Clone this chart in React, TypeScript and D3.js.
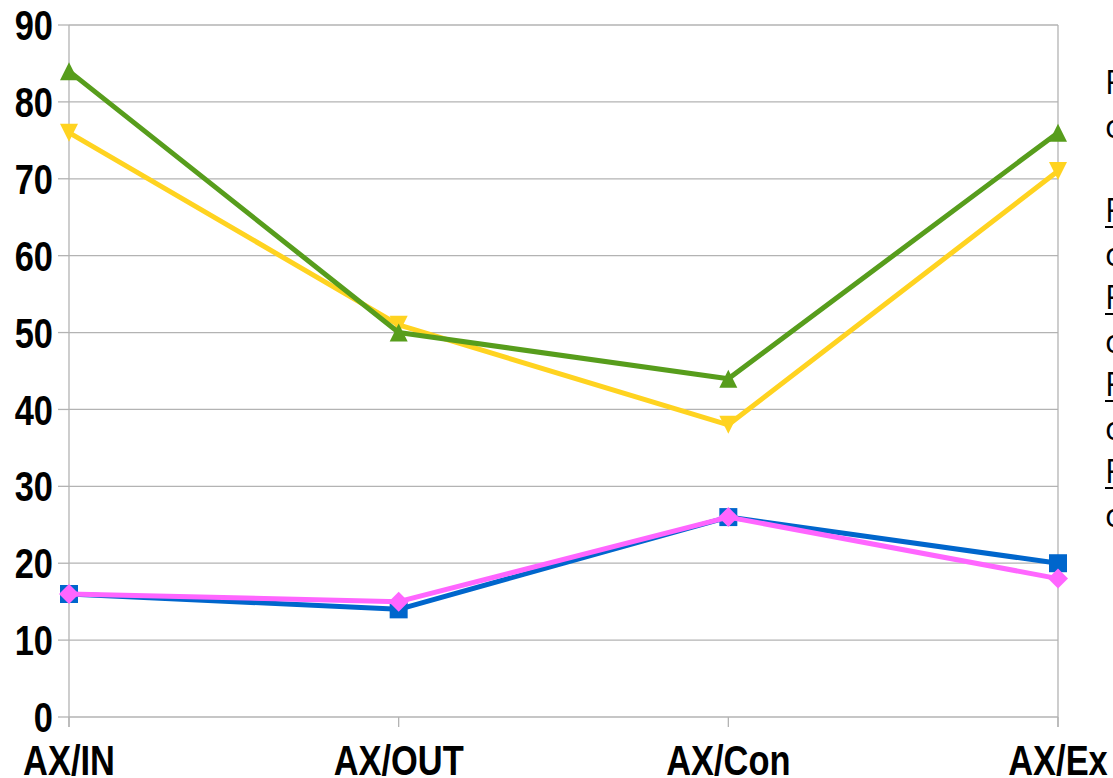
import { useMemo } from 'react';
import * as d3 from 'd3';

const CATEGORIES = ['AX/IN', 'AX/OUT', 'AX/Con', 'AX/Ex'];
const BLUE_VALUES = [16, 14, 26, 20];
const PINK_VALUES = [16, 15, 26, 18];
const YELLOW_VALUES = [76, 51, 38, 71];
const GREEN_VALUES = [84, 50, 44, 76];
const Y_TICKS = [0, 10, 20, 30, 40, 50, 60, 70, 80, 90];
const LEGEND_LINES = [
  { text: 'F', underline: false },
  { text: 'c', underline: false },
  { text: '', underline: false },
  { text: 'F', underline: true },
  { text: 'c', underline: false },
  { text: 'F', underline: true },
  { text: 'c', underline: false },
  { text: 'F', underline: true },
  { text: 'c', underline: false },
  { text: 'F', underline: true },
  { text: 'c', underline: false },
];

const SERIES = [
  { name: 'blue', values: BLUE_VALUES, color: '#0066cc', symbol: 'square' },
  { name: 'pink', values: PINK_VALUES, color: '#ff66ff', symbol: 'diamond' },
  { name: 'yellow', values: YELLOW_VALUES, color: '#ffd320', symbol: 'down' },
  { name: 'green', values: GREEN_VALUES, color: '#579d1c', symbol: 'up' },
];

const WIDTH = 1113;
const HEIGHT = 778;
const LABEL_FONT = '"Liberation Sans", Arial, sans-serif';
const NARROW = 0.82; // squeeze to mimic the narrow bold face

function markerPath(symbol: string, s: number) {
  const h = s / 2;
  switch (symbol) {
    case 'square':
      return `M${-h},${-h}H${h}V${h}H${-h}Z`;
    case 'diamond':
      return `M0,${-h}L${h},0L0,${h}L${-h},0Z`;
    case 'down':
      return `M${-h},${-h}H${h}L0,${h}Z`;
    default:
      return `M0,${-h}L${h},${h}H${-h}Z`;
  }
}

function NarrowText({ x, y, anchor, dy, children }: { x: number; y: number; anchor: string; dy?: string; children: any }) {
  return (
    <g transform={`translate(${x},${y}) scale(${NARROW},1)`}>
      <text
        x={0}
        y={0}
        dy={dy}
        textAnchor={anchor}
        fontFamily={LABEL_FONT}
        fontWeight="bold"
        fontSize={42}
        fill="#000"
      >
        {children}
      </text>
    </g>
  );
}

export default function App() {
  const x = useMemo(
    () => d3.scalePoint<string>().domain(CATEGORIES).range([69, 1058]),
    []
  );
  const y = useMemo(() => d3.scaleLinear().domain([0, 90]).range([717, 25]), []);

  const line = d3
    .line<number>()
    .x((_, i) => x(CATEGORIES[i]) as number)
    .y(d => y(d));

  const [x0, x1] = x.range();

  return (
    <svg
      width={WIDTH}
      height={HEIGHT}
      viewBox={`0 0 ${WIDTH} ${HEIGHT}`}
      style={{ position: 'absolute', left: 0, top: 0, background: '#fff' }}
    >
      <rect width={WIDTH} height={HEIGHT} fill="#fff" />

      {/* horizontal grid */}
      {Y_TICKS.map(t => (
        <line key={'g' + t} x1={x0} x2={x1} y1={y(t)} y2={y(t)} stroke="#b3b3b3" strokeWidth={1.3} />
      ))}

      {/* y ticks + labels */}
      {Y_TICKS.map(t => (
        <g key={'y' + t}>
          <line x1={x0 - 11} x2={x0} y1={y(t)} y2={y(t)} stroke="#b3b3b3" strokeWidth={1.3} />
          <NarrowText x={53} y={y(t)} dy="0.36em" anchor="end">
            {t}
          </NarrowText>
        </g>
      ))}

      {/* left axis and right border */}
      <line x1={x0} x2={x0} y1={y(90)} y2={y(0) + 10} stroke="#b3b3b3" strokeWidth={1.3} />
      <line x1={x1} x2={x1} y1={y(90)} y2={y(0) + 10} stroke="#b3b3b3" strokeWidth={1.3} />

      {/* x ticks + labels */}
      {CATEGORIES.map(c => (
        <g key={c}>
          <line
            x1={x(c) as number}
            x2={x(c) as number}
            y1={y(0)}
            y2={y(0) + 10}
            stroke="#b3b3b3"
            strokeWidth={1.3}
          />
          <NarrowText x={x(c) as number} y={775} anchor="middle">
            {c}
          </NarrowText>
        </g>
      ))}

      {/* series */}
      {SERIES.map(s => (
        <g key={s.name}>
          <path d={line(s.values) ?? ''} fill="none" stroke={s.color} strokeWidth={5} strokeLinejoin="round" />
          {s.values.map((v, i) => (
            <path
              key={i}
              transform={`translate(${x(CATEGORIES[i])},${y(v)})`}
              d={markerPath(s.symbol, s.symbol === 'diamond' ? 20 : 18)}
              fill={s.color}
            />
          ))}
        </g>
      ))}

      {/* legend (cut off at the right edge, as in the source) */}
      {LEGEND_LINES.map((l, i) => {
        const baseY = i < 2 ? 94 + i * 43.5 : 222 + (i - 3) * 43.5;
        if (!l.text) return null;
        return (
          <g key={'l' + i}>
            <text x={1105} y={baseY} fontFamily='"Open Sans", sans-serif' fontSize={32} fill="#000">
              {l.text}
            </text>
            {l.underline && (
              <line x1={1105} x2={WIDTH} y1={baseY + 5} y2={baseY + 5} stroke="#000" strokeWidth={2} />
            )}
          </g>
        );
      })}
    </svg>
  );
}
